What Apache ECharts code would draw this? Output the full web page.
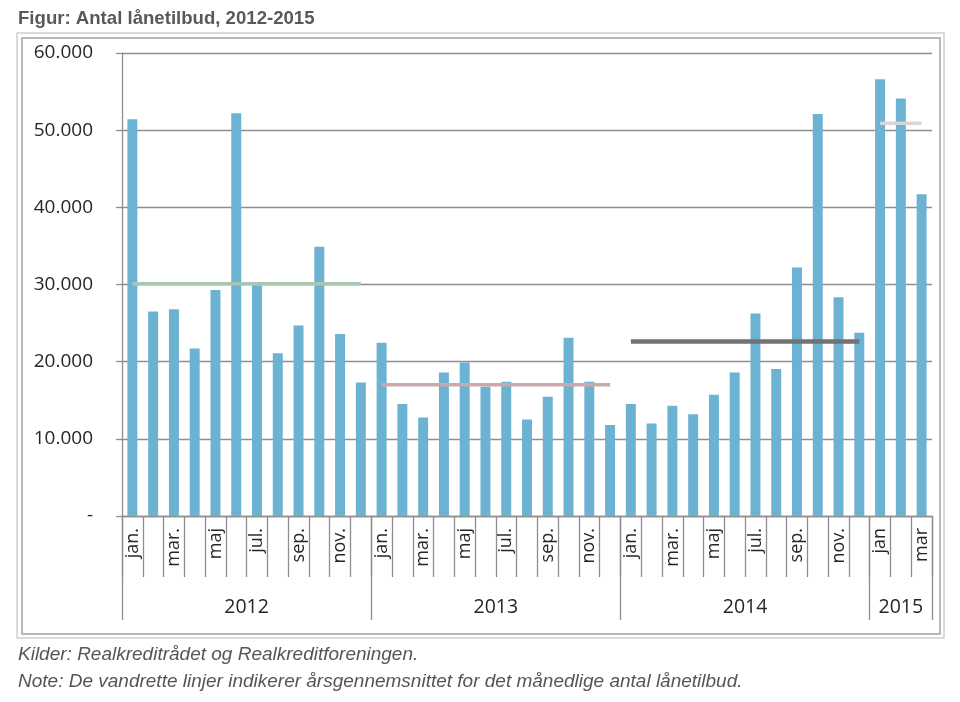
<!DOCTYPE html>
<html>
<head>
<meta charset="utf-8">
<script src="https://cdn.jsdelivr.net/npm/echarts@6/dist/echarts.min.js"></script>
<style>
html,body{margin:0;padding:0;background:#fff;}
#chart{width:960px;height:702px;}
</style>
</head>
<body>
<div id="chart"></div>
<script>
// ---- Data ----
const monthLabels = [
  "jan.","feb.","mar.","apr.","maj","jun.","jul.","aug.","sep.","okt.","nov.","dec.",
  "jan.","feb.","mar.","apr.","maj","jun.","jul.","aug.","sep.","okt.","nov.","dec.",
  "jan.","feb.","mar.","apr.","maj","jun.","jul.","aug.","sep.","okt.","nov.","dec.",
  "jan","feb","mar"
];
const loanOffers = [
  51400, 26500, 26800, 21700, 29300, 52200, 29900, 21100, 24700, 34900, 23600, 17300,
  22450, 14500, 12750, 18600, 19900, 16750, 17400, 12500, 15450, 23100, 17400, 11800,
  14500, 12000, 14300, 13200, 15700, 18600, 26250, 19050, 32200, 52100, 28350, 23750,
  56600, 54100, 41700
];
const years = ["2012", "2013", "2014", "2015"];
const monthsPerYear = [12, 12, 12, 3];
const yearAverages = [30100, 17000, 22600, 50900];
const yTicks = [0, 10000, 20000, 30000, 40000, 50000, 60000];

// ---- Derived structures ----
const yearStarts = [];
let acc = 0;
monthsPerYear.forEach(n => { yearStarts.push(acc); acc += n; });
const yearBounds = yearStarts.concat([acc]);
const yearCenters = yearStarts.map((s, i) => s + monthsPerYear[i] / 2);

const avgColors = ['#a9c6b0', '#c9a9ab', '#727272', '#d6d6d6'];
const avgWidths = [3.5, 3.5, 4.5, 3.5];

const avgSeries = years.map((yr, i) => {
  const data = monthLabels.map((_, k) =>
    (k >= yearStarts[i] && k < yearStarts[i] + monthsPerYear[i]) ? yearAverages[i] : null);
  return {
    name: 'Gennemsnit ' + yr,
    type: 'line',
    data: data,
    symbol: 'none',
    connectNulls: false,
    lineStyle: { color: avgColors[i], width: avgWidths[i], cap: 'butt' },
    z: 5,
    silent: true
  };
});

const axisGray = '#8e8e8e';
const fontFam = '"Open Sans", sans-serif';
const noteFont = '"Liberation Sans", Arial, sans-serif';

const chart = echarts.init(document.getElementById('chart'), null, { renderer: 'canvas' });
chart.setOption({
  animation: false,
  backgroundColor: '#ffffff',
  title: [
    {
      text: 'Figur: Antal lånetilbud, 2012-2015',
      left: 13, top: 4,
      textStyle: { fontFamily: noteFont, fontSize: 18.6, fontWeight: 'bold', color: '#595959' }
    },
    {
      text: 'Kilder: Realkreditrådet og Realkreditforeningen.',
      left: 13, top: 640,
      textStyle: { fontFamily: noteFont, fontSize: 19, fontWeight: 'normal', fontStyle: 'italic', color: '#555555' }
    },
    {
      text: 'Note: De vandrette linjer indikerer årsgennemsnittet for det månedlige antal lånetilbud.',
      left: 13, top: 667,
      textStyle: { fontFamily: noteFont, fontSize: 19, fontWeight: 'normal', fontStyle: 'italic', color: '#555555' }
    }
  ],
  graphic: [
    { type: 'rect', shape: { x: 17, y: 33, width: 927, height: 605 }, style: { fill: null, stroke: '#d0d0d0', lineWidth: 1.5 }, silent: true },
    { type: 'rect', shape: { x: 22, y: 38, width: 918, height: 596 }, style: { fill: null, stroke: '#a3a3a3', lineWidth: 1.5 }, silent: true }
  ],
  grid: { left: 122, right: 28, top: 53, bottom: 186, containLabel: false },
  xAxis: [
    {
      type: 'category',
      data: monthLabels,
      boundaryGap: true,
      axisLine: { show: true, lineStyle: { color: axisGray, width: 1.3 } },
      axisTick: { show: true, interval: 0, length: 61, lineStyle: { color: axisGray, width: 1.3 } },
      axisLabel: {
        interval: 1, rotate: 90, margin: 12,
        fontFamily: fontFam, fontSize: 18, color: '#262626'
      },
      splitLine: { show: false }
    },
    {
      type: 'value',
      min: 0, max: acc,
      position: 'bottom',
      axisLine: { show: false },
      splitLine: { show: false },
      axisTick: {
        show: true, length: 104, customValues: yearBounds,
        lineStyle: { color: axisGray, width: 1.3 }
      },
      axisLabel: {
        show: true, margin: 81, customValues: yearCenters,
        formatter: v => { const i = yearCenters.indexOf(v); return i >= 0 ? years[i] : ''; },
        fontFamily: fontFam, fontSize: 19.5, color: '#262626'
      }
    }
  ],
  yAxis: {
    type: 'value',
    min: 0, max: 60000, interval: 10000,
    axisLine: { show: true, lineStyle: { color: axisGray, width: 1.3 } },
    axisTick: { show: true, length: 6, lineStyle: { color: axisGray, width: 1.3 } },
    axisLabel: {
      margin: 29,
      fontFamily: fontFam, fontSize: 19, color: '#262626',
      formatter: v => v === 0 ? '-' : (v / 1000).toFixed(0) + '.000'
    },
    splitLine: { show: true, lineStyle: { color: axisGray, width: 1.3 } }
  },
  series: [
    {
      name: 'Antal lånetilbud',
      type: 'bar',
      data: loanOffers,
      barWidth: '48%',
      itemStyle: { color: '#6cb2d3' },
      z: 2,
      silent: true
    }
  ].concat(avgSeries)
});
</script>
</body>
</html>
